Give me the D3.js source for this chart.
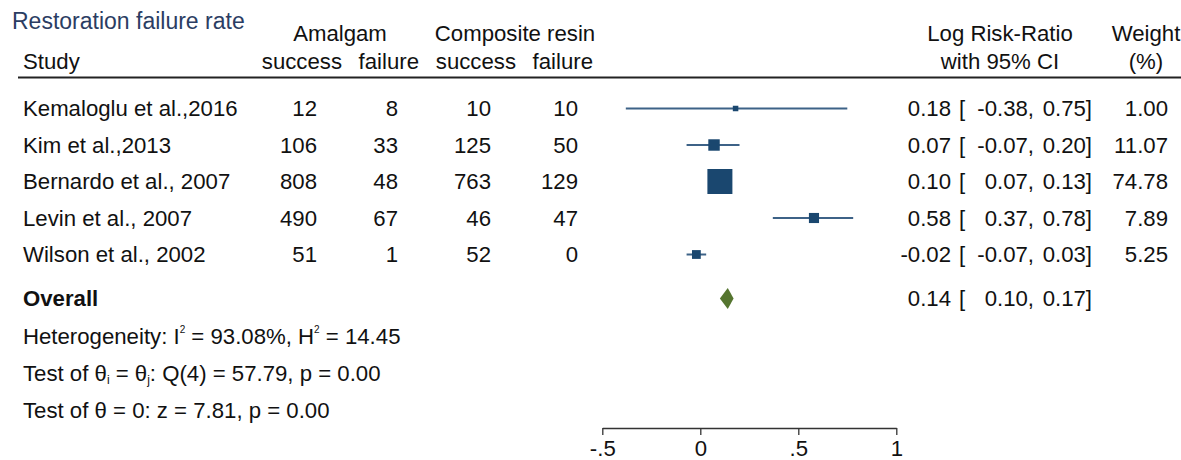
<!DOCTYPE html>
<html>
<head>
<meta charset="utf-8">
<script src="https://cdn.jsdelivr.net/npm/d3@7"></script>
<style>
  body { margin: 0; background: #fff; }
  svg text { font-family: "Liberation Sans", Arial, sans-serif; fill: #111; }
</style>
</head>
<body>
<svg id="plot" width="1181" height="460"></svg>
<script>
// study data
var studies = ["Kemaloglu et al.,2016", "Kim et al.,2013", "Bernardo et al., 2007", "Levin et al., 2007", "Wilson et al., 2002"];
var amalgamSuccess = [12, 106, 808, 490, 51];
var amalgamFailure = [8, 33, 48, 67, 1];
var compositeSuccess = [10, 125, 763, 46, 52];
var compositeFailure = [10, 50, 129, 47, 0];
var logRR = [0.18, 0.07, 0.10, 0.58, -0.02];
var ciLow = [-0.38, -0.07, 0.07, 0.37, -0.07];
var ciHigh = [0.75, 0.20, 0.13, 0.78, 0.03];
var weights = [1.00, 11.07, 74.78, 7.89, 5.25];

var overall = {est: 0.14, lo: 0.10, hi: 0.17};
var axisTicks = [-0.5, 0, 0.5, 1];
var tickLabels = ["-.5", "0", ".5", "1"];

var fs = 22.2;
var navy = "#1a476f";

var svg = d3.select("#plot");

var x = d3.scaleLinear().domain([-0.5, 1]).range([602.3, 896.3]);
var y = d3.scaleLinear().domain([0, 4]).range([108.5, 254.5]);
var box = d3.scalePow().exponent(0.5).domain([1, 74.78]).range([5.5, 25]);

function txt(xp, yp, s, anchor, extra) {
	var t = svg.append("text")
		.attr("x", xp).attr("y", yp)
		.attr("font-size", fs)
		.attr("text-anchor", anchor || "start")
		.text(s);
	if (extra) extra(t);
	return t;
}

// header
txt(12, 29, "Restoration failure rate", "start", t => t.attr("font-size", 23).style("fill", "#2b3d63"));
txt(340, 41, "Amalgam", "middle");
txt(515, 41, "Composite resin", "middle");
txt(23, 69, "Study");
txt(342, 69, "success", "end");
txt(419, 69, "failure", "end");
txt(516, 69, "success", "end");
txt(593, 69, "failure", "end");
txt(1000, 41, "Log Risk-Ratio", "middle");
txt(1000, 69, "with 95% CI", "middle");
txt(1146, 41, "Weight", "middle");
txt(1146, 69, "(%)", "middle");

svg.append("line")
	.attr("x1", 18).attr("x2", 1181)
	.attr("y1", 77.5).attr("y2", 77.5)
	.attr("stroke", "#222").attr("stroke-width", 2);

// hyphen instead of unicode minus, like the original
var f2 = v => d3.format(".2f")(v).replace("\u2212", "-");
var cols = [[317, amalgamSuccess], [398, amalgamFailure], [491, compositeSuccess], [578, compositeFailure]];

for (var i = 0; i < studies.length; i++) {
	var yy = y(i);
	var base = yy + 7.5;
	txt(23, base, studies[i]);
	cols.forEach(c => txt(c[0], base, c[1][i], "end"));

	svg.append("line")
		.attr("x1", x(ciLow[i])).attr("x2", x(ciHigh[i]))
		.attr("y1", yy).attr("y2", yy)
		.attr("stroke", "#3d6287").attr("stroke-width", 2);
	var s = box(weights[i]);
	svg.append("rect")
		.attr("x", x(logRR[i]) - s / 2).attr("y", yy - s / 2)
		.attr("width", s).attr("height", s)
		.attr("fill", navy);

	txt(951, base, f2(logRR[i]), "end");
	txt(959, base, "[");
	txt(1034, base, f2(ciLow[i]) + ",", "end");
	txt(1092, base, f2(ciHigh[i]) + "]", "end");
	txt(1168, base, f2(weights[i]), "end");
}

// overall
var oy = 298.5;
txt(23, oy + 7.5, "Overall").attr("font-weight", "bold");
svg.append("path")
	.attr("d", d3.line()([[x(overall.lo), oy], [x(overall.est), oy - 10.5], [x(overall.hi), oy], [x(overall.est), oy + 10.5]]) + "Z")
	.attr("fill", "#55752f");
txt(951, oy + 7.5, f2(overall.est), "end");
txt(959, oy + 7.5, "[");
txt(1034, oy + 7.5, f2(overall.lo) + ",", "end");
txt(1092, oy + 7.5, f2(overall.hi) + "]", "end");

// heterogeneity stats
var h = txt(23, 343.5, "Heterogeneity: I");
h.append("tspan").attr("font-size", 10).attr("dy", -11).text("2");
h.append("tspan").attr("dy", 11).text(" = 93.08%, H");
h.append("tspan").attr("font-size", 10).attr("dy", -11).text("2");
h.append("tspan").attr("dy", 11).text(" = 14.45");

var q = txt(23, 381, "Test of θ");
q.append("tspan").attr("font-size", 12).attr("dy", 3).text("i");
q.append("tspan").attr("dy", -3).text(" = θ");
q.append("tspan").attr("font-size", 12).attr("dy", 3).text("j");
q.append("tspan").attr("dy", -3).text(": Q(4) = 57.79, p = 0.00");

txt(23, 418, "Test of θ = 0: z = 7.81, p = 0.00");

// x axis
var ax = svg.append("g").attr("transform", "translate(0,428)")
	.call(d3.axisBottom(x).tickValues(axisTicks).tickFormat((d, i) => tickLabels[i]).tickSizeInner(7).tickSizeOuter(0).tickPadding(5));
ax.select(".domain").attr("stroke", "#333").attr("stroke-width", 1.3);
ax.selectAll(".tick line").attr("stroke", "#333").attr("stroke-width", 1.3);
ax.selectAll(".tick text").attr("font-size", fs).attr("font-family", "Liberation Sans, Arial, sans-serif").style("fill", "#111");
</script>
</body>
</html>
